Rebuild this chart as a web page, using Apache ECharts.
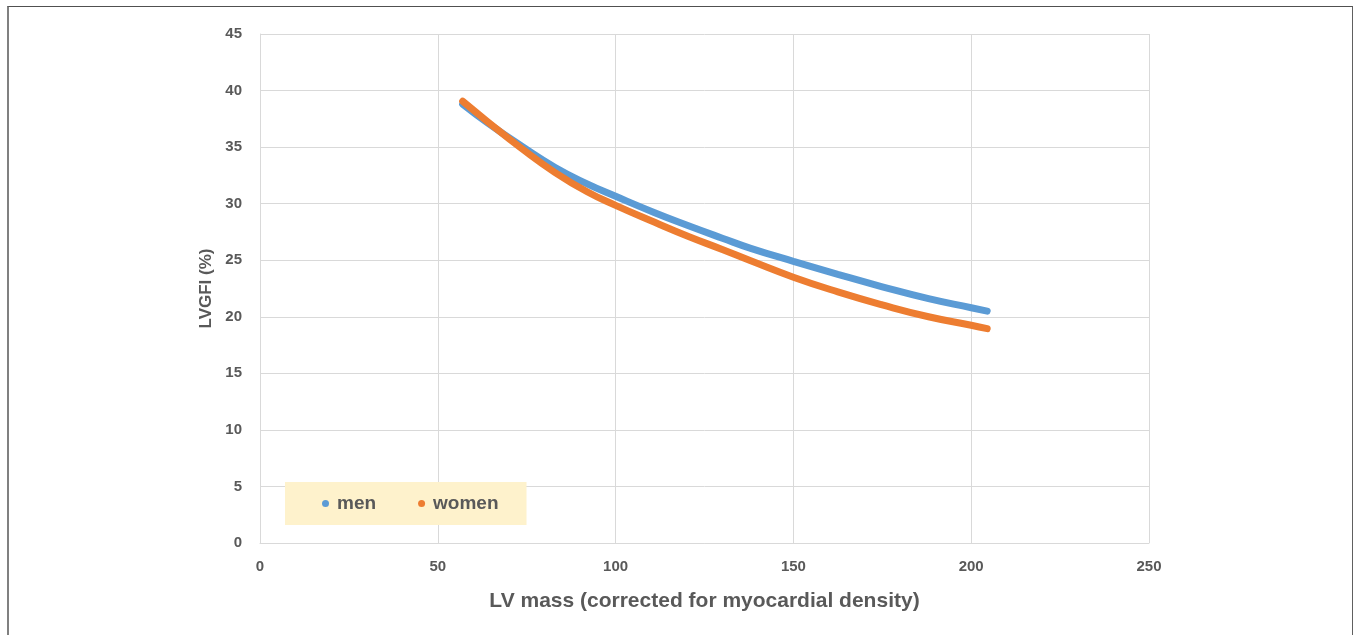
<!DOCTYPE html>
<html>
<head>
<meta charset="utf-8">
<script src="https://cdn.jsdelivr.net/npm/echarts@6/dist/echarts.min.js"></script>
<style>
    html, body { margin: 0; padding: 0; background: #fff; }
    #frame {
        position: absolute; left: 7px; top: 6px; width: 1343px; height: 640px;
        border-left: 2px solid #808080; border-top: 1px solid #505050; border-right: 1px solid #606060;
    }
    #chart { position: absolute; left: 0; top: 0; width: 1357px; height: 635px; }
</style>
</head>
<body>
<div id="frame"></div>
<div id="chart"></div>
<script>
    // 读图得到的数据
    var lvMass = [57, 64, 73.5, 83, 92, 100, 111, 120.5, 130, 138, 150, 162.5, 175, 188, 200, 204.5];
    var men = [38.8, 37.15, 35.1, 33.2, 31.75, 30.65, 29.2, 28.05, 26.95, 26.05, 24.9, 23.75, 22.65, 21.6, 20.8, 20.5];
    var women = [39.05, 37.25, 34.9, 32.75, 31.05, 29.85, 28.35, 27.1, 25.95, 24.95, 23.5, 22.2, 21.05, 20.0, 19.25, 18.95];
    var seriesNames = ['men', 'women'];

    function pairs(ys) {
        return lvMass.map(function(x, i) { return [x, ys[i]]; });
    }

    var font = '"Liberation Sans", Arial, sans-serif';
    var textColor = '#595959';
    var gridColor = '#d9d9d9';

    var myChart = echarts.init(document.getElementById('chart'));
    var option = {
        animation: false,
        grid: { left: 260, right: 208, top: 34, bottom: 92 },
        legend: {
            data: seriesNames,
            left: 285,
            top: 482,
            padding: [12, 28, 12, 37],
            itemGap: 42,
            itemWidth: 7,
            itemHeight: 7,
            icon: 'circle',
            backgroundColor: '#fef2cc',
            textStyle: { fontFamily: font, fontWeight: 'bold', fontSize: 19, color: textColor, padding: [0, 0, 0, 3] }
        },
        xAxis: {
            type: 'value',
            min: 0, max: 250, interval: 50,
            name: 'LV mass (corrected for myocardial density)',
            nameLocation: 'middle',
            nameGap: 48,
            nameTextStyle: { fontFamily: font, fontWeight: 'bold', fontSize: 21, color: textColor },
            axisLine: { lineStyle: { color: gridColor } },
            axisTick: { show: false },
            axisLabel: { margin: 16, fontFamily: font, fontWeight: 'bold', fontSize: 15, color: textColor },
            splitLine: { lineStyle: { color: gridColor } }
        },
        yAxis: {
            type: 'value',
            min: 0, max: 45, interval: 5,
            name: 'LVGFI (%)',
            nameLocation: 'middle',
            nameGap: 40,
            nameTextStyle: { fontFamily: font, fontWeight: 'bold', fontSize: 17, color: textColor },
            axisLine: { show: true, lineStyle: { color: gridColor } },
            axisTick: { show: false },
            axisLabel: { margin: 18, fontFamily: font, fontWeight: 'bold', fontSize: 15, color: textColor },
            splitLine: { lineStyle: { color: gridColor } }
        },
        series: [{
            name: 'men',
            type: 'line',
            smooth: 0.5,
            symbol: 'none',
            data: pairs(men),
            itemStyle: { color: '#5b9bd5' },
            lineStyle: { color: '#5b9bd5', width: 7, cap: 'round' }
        }, {
            name: 'women',
            type: 'line',
            smooth: 0.5,
            symbol: 'none',
            data: pairs(women),
            itemStyle: { color: '#ed7d31' },
            lineStyle: { color: '#ed7d31', width: 7, cap: 'round' }
        }]
    };
    myChart.setOption(option);
</script>
</body>
</html>
